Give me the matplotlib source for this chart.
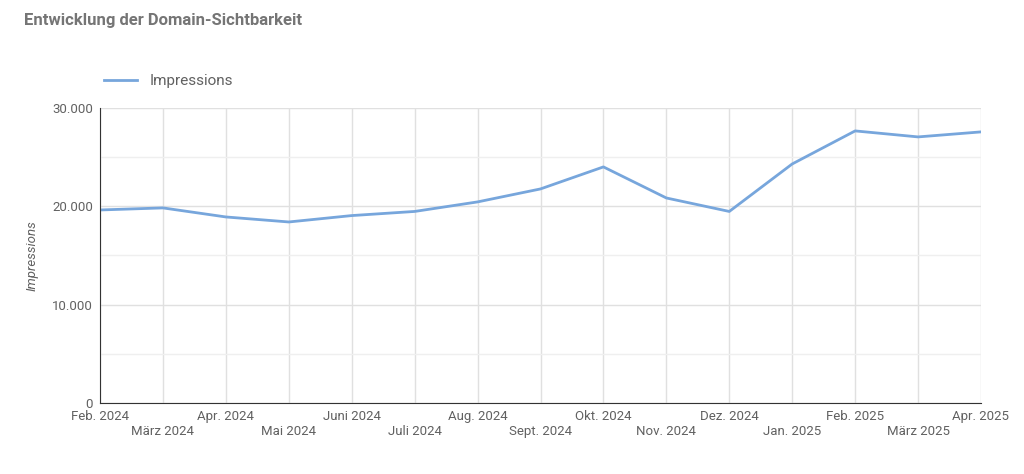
import matplotlib.pyplot as plt
from matplotlib.ticker import FuncFormatter, MultipleLocator

months = ["Feb. 2024", "März 2024", "Apr. 2024", "Mai 2024", "Juni 2024", "Juli 2024",
          "Aug. 2024", "Sept. 2024", "Okt. 2024", "Nov. 2024", "Dez. 2024", "Jan. 2025",
          "Feb. 2025", "März 2025", "Apr. 2025"]
impressions = [19630, 19840, 18920, 18410, 19060, 19480, 20450, 21770, 24010,
               20850, 19480, 24310, 27670, 27060, 27570]

plt.rcParams['font.family'] = ['Roboto', 'DejaVu Sans']

fig = plt.figure(figsize=(10.24, 4.74), dpi=100)
ax = fig.add_axes([100 / 1024, 1 - 403 / 474, 881 / 1024, 295 / 474])

x = list(range(len(months)))
line, = ax.plot(x, impressions, color="#77a6dc", linewidth=2, label="Impressions")

ax.set_xlim(0, len(months) - 1)
ax.set_ylim(0, 30000)
ax.yaxis.set_major_locator(MultipleLocator(10000))
ax.yaxis.set_minor_locator(MultipleLocator(5000))
ax.yaxis.set_major_formatter(FuncFormatter(lambda v, p: "0" if v == 0 else f"{int(v):,}".replace(",", ".")))
ax.set_xticks(x)
ax.set_xticklabels([m if i % 2 == 0 else "\n" + m for i, m in enumerate(months)])
ax.grid(True, which="major", color="#e0e0e0", linewidth=1)
ax.grid(True, which="minor", axis="y", color="#efefef", linewidth=1)
ax.tick_params(length=0, labelsize=9.5, colors="#616161", pad=5)
ax.tick_params(which="minor", length=0)
for s in ["top", "right"]:
    ax.spines[s].set_visible(False)
ax.spines["left"].set_color("#333333")
ax.spines["bottom"].set_color("#333333")
ax.set_ylabel("Impressions", style="italic", color="#616161", fontsize=9.5, labelpad=10)

fig.text(24 / 1024, 1 - 20 / 474, "Entwicklung der Domain-Sichtbarkeit", fontsize=12,
         fontweight="bold", color="#757575", va="center")
fig.legend(handles=[line], loc="center left", bbox_to_anchor=(90 / 1024, 1 - 81 / 474),
           frameon=False, fontsize=11, labelcolor="#616161", handlelength=2.2)

fig.savefig("out.png", dpi=100, facecolor="white")
